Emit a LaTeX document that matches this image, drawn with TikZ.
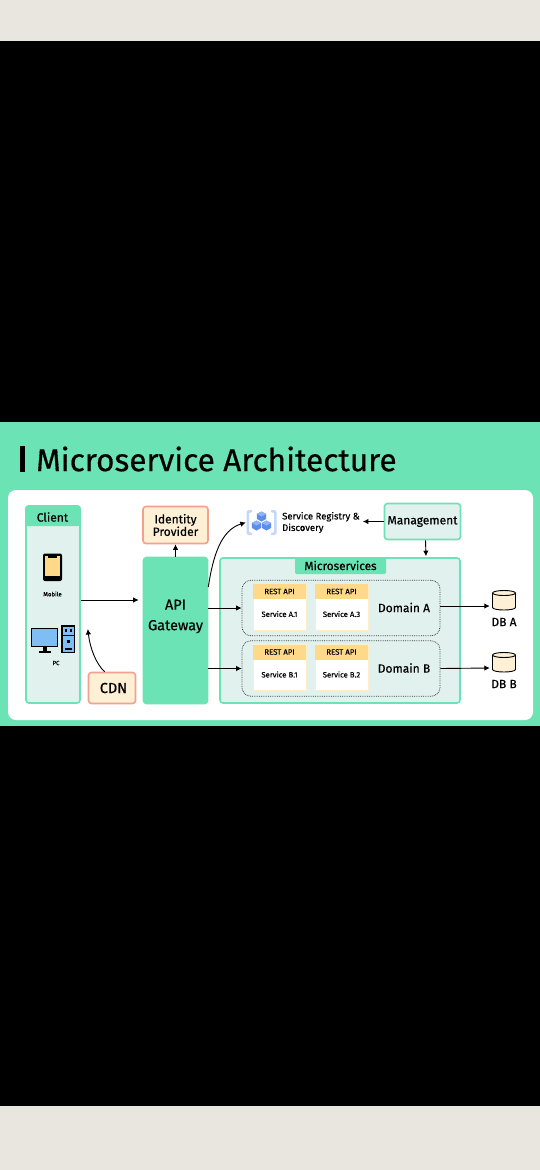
\documentclass[tikz,border=0pt]{standalone}
\usepackage{fontspec}
\setmainfont[FakeBold=0.45]{Fira Sans}
\usetikzlibrary{arrows.meta}
\definecolor{mintc}{HTML}{6BE3B5}
\definecolor{palec}{HTML}{E0F1EE}
\definecolor{creamc}{HTML}{FDF0D5}
\definecolor{salmonc}{HTML}{F5A08F}
\definecolor{amberc}{HTML}{FFD98A}
\definecolor{bluec}{HTML}{7FBDF5}
\definecolor{cubec}{HTML}{5B8DEF}
\definecolor{cubetopc}{HTML}{8FB4F5}
\definecolor{bracketc}{HTML}{C3D8FA}
\definecolor{bandc}{HTML}{E8E6DF}
\tikzset{
  txt/.style={inner sep=0pt,align=center,text=black,font=\fontsize{#1}{#1}\selectfont},
  box/.style={draw,line width=1.6pt,rounded corners=3pt,inner sep=0pt,align=center,
    font=\fontsize{12}{14}\selectfont},
  greenbox/.style={box,draw=mintc,fill=palec},
  peachbox/.style={box,draw=salmonc,fill=creamc},
  domainbox/.style={draw=black!75,densely dotted,line width=0.8pt,rounded corners=9pt,fill=palec},
  cardbox/.style={fill=white,draw=amberc!45,line width=0.6pt,inner sep=0pt},
  apibox/.style={fill=amberc,inner sep=0pt,font=\fontsize{7.8}{8}\selectfont},
  conn/.style={-{Latex[length=5.5pt,width=5.5pt]},line width=0.9pt,black},
  can/.style={draw=black,fill=creamc,line width=0.9pt}
}
\begin{document}
\begin{tikzpicture}[x=1pt,y=-1pt]
    \useasboundingbox (0,0) rectangle (540,1170);
    \fill[black] (0,0) rectangle (540,1170);
    \fill[bandc] (0,0) rectangle (540,41);
    \fill[bandc] (0,1106) rectangle (540,1170);
    \fill[mintc] (0,422) rectangle (540,726);
    \fill[white,rounded corners=8pt] (8,490) rectangle (533,720);
    % title
    \fill[black] (20,446) rectangle (25,472);
    \node[txt=31.6,anchor=west] (title) at (36,459) {Microservice Architecture};
    % client
    \node[greenbox,minimum width=54pt,minimum height=197pt] (client) at (53,604.5) {};
    \fill[mintc,rounded corners=3pt] (25.2,505.2) rectangle (80.8,526);
    \fill[mintc] (25.2,518) rectangle (80.8,526);
    \node[txt=12] (clientlabel) at (52.5,517) {Client};
    % phone
    \fill[black,rounded corners=2pt] (43,553.5) rectangle (62,581);
    \fill[amberc] (45,556) rectangle (60,576);
    \fill[black] (48,555) rectangle (57,558);
    \node[txt=6] (mobile) at (52.5,594) {Mobile};
    % computer
    \draw[fill=bluec,line width=1.3pt] (31.5,628.5) rectangle (57.5,646.5);
    \fill[black] (43,646.5) rectangle (46.5,651);
    \fill[black] (38.5,651) rectangle (51,653);
    \draw[fill=bluec,line width=1.3pt] (62,626) rectangle (74.5,652.5);
    \fill[black] (62,634.5) rectangle (74.5,635.5);
    \fill[black] (64.5,629) rectangle (67,631.5);
    \fill[black] (69.5,629) rectangle (72,631.5);
    \fill[black] (66.5,640) rectangle (70,643);
    \fill[black] (65,648) rectangle (71.5,649.5);
    \node[txt=6] (pc) at (56,663) {PC};
    % left column
    \node[peachbox,minimum width=65pt,minimum height=37pt] (identity) at (175.5,525)
      {Identity\\[-1.5pt]Provider};
    \node[box,draw=mintc,fill=mintc,minimum width=64pt,minimum height=146pt] (gateway) at (175.5,630.5) {};
    \node[txt=14,font=\fontsize{14.5}{20.5}\selectfont] (gatewaylabel) at (175.5,616.5) {API\\Gateway};
    \node[peachbox,minimum width=47pt,minimum height=31pt,font=\fontsize{14.5}{15}\selectfont]
      (cdn) at (112,688) {\hspace*{3pt}CDN};
    % registry
    \fill[bracketc] (252,510) -- (248,510) -- (246.5,512) -- (246.5,533) -- (248,535) -- (252,535)
      -- (252,533) -- (249,532) -- (249,513) -- (252,512) -- cycle;
    \fill[bracketc] (271,510) -- (275,510) -- (276.5,512) -- (276.5,533) -- (275,535) -- (271,535)
      -- (271,533) -- (274,532) -- (274,513) -- (271,512) -- cycle;
    \foreach \cx/\cy in {261.5/516.5, 256.5/525.5, 266.5/525.5} {
      \fill[cubec] (\cx,\cy-5) -- (\cx+4.6,\cy-2.5) -- (\cx+4.6,\cy+2.5) -- (\cx,\cy+5)
        -- (\cx-4.6,\cy+2.5) -- (\cx-4.6,\cy-2.5) -- cycle;
      \fill[cubetopc] (\cx,\cy-5) -- (\cx+4.6,\cy-2.5) -- (\cx,\cy) -- (\cx-4.6,\cy-2.5) -- cycle;
    }
    \node[inner sep=0pt,minimum width=31pt,minimum height=27pt] (registryicon) at (261.5,522.5) {};
    \node[txt=9.5,align=left,anchor=west,font=\fontsize{9.5}{11.5}\selectfont] (registry) at (282,522.5)
      {Service Registry \&\\Discovery};
    \node[greenbox,minimum width=76pt,minimum height=36pt] (management) at (422.5,521.5) {Management};
    % microservices
    \node[greenbox,minimum width=240pt,minimum height=145pt] (micro) at (340,630.5) {};
    \node[fill=mintc,rounded corners=1.5pt,inner sep=0pt,minimum width=91pt,minimum height=17pt,
      font=\fontsize{11.8}{12}\selectfont] (microlabel) at (340.5,565.5) {Microservices};
    \foreach \dname/\dtext/\dy/\sone/\stwo in {domainA/Domain A/608/Service A.1/Service A.3,
                                               domainB/Domain B/668.5/Service B.1/Service B.2} {
      \node[domainbox,minimum width=198pt,minimum height=55.5pt] (\dname) at (341,\dy) {};
      \node[txt=12] (\dname label) at (404,\dy-0.5) {\dtext};
      \node[cardbox,minimum width=53pt,minimum height=46pt] (\dname one) at (279.5,\dy-1) {};
      \node[cardbox,minimum width=53pt,minimum height=46pt] (\dname two) at (341.5,\dy-1) {};
      \node[apibox,minimum width=53pt,minimum height=15pt] (\dname apione) at (279.5,\dy-16.5) {REST API};
      \node[apibox,minimum width=53pt,minimum height=15pt] (\dname apitwo) at (341.5,\dy-16.5) {REST API};
      \node[txt=7.7] (\dname textone) at (279.5,\dy+6) {\sone};
      \node[txt=7.7] (\dname texttwo) at (341.5,\dy+6) {\stwo};
    }
    % databases
    \foreach \dbname/\dbtext/\dby in {dbA/DB A/590.5, dbB/DB B/652.5} {
      \draw[can] (492.5,\dby+2.5) -- (492.5,\dby+17) arc[start angle=180,end angle=360,x radius=11.5pt,y radius=2.5pt]
        -- (515.5,\dby+2.5);
      \draw[can] (504,\dby+2.5) ellipse[x radius=11.5pt,y radius=2.5pt];
      \node[inner sep=0pt,minimum width=24pt,minimum height=20pt] (\dbname) at (504,\dby+10) {};
      \node[txt=12] (\dbname label) at (504,\dby+31.5) {\dbtext};
    }
    % connectors
    \draw[conn] ([yshift=4.5pt]client.east) -- ([xshift=-4pt,yshift=30.5pt]gateway.west);
    \draw[conn] (cdn.north west) ++(17pt,0) .. controls (96,664) and (90,648) .. ([yshift=-24.5pt,xshift=7pt]client.east);
    \draw[conn] (gateway.north) -- (identity.south);
    \draw[conn] ([yshift=43.5pt]gateway.east) .. controls (213,556) and (221,530) .. (registryicon.west);
    \draw[conn] (gateway.east |- domainA.west) -- (domainA.west);
    \draw[conn] (gateway.east |- domainB.west) -- (domainB.west);
    \draw[conn] ([yshift=2pt]domainA.east) -- ([yshift=-5.5pt,xshift=-2pt]dbA.west);
    \draw[conn] (domainB.east) -- ([yshift=-5.5pt,xshift=-2pt]dbB.west);
    \draw[conn] (management.west) -- ([xshift=3pt]registry.east |- management.west);
    \draw[conn] ([xshift=3pt]management.south) -- ([xshift=86pt,yshift=1pt]micro.north);
\end{tikzpicture}
\end{document}
